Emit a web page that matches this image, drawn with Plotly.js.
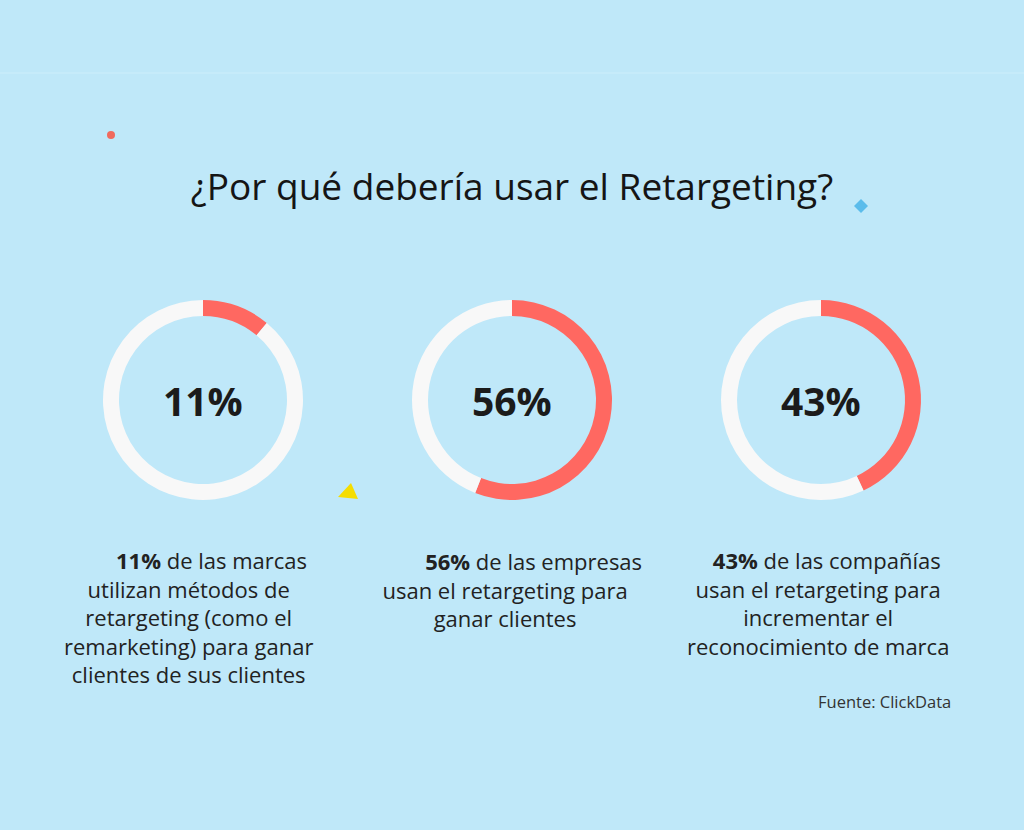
<!DOCTYPE html>
<html>
<head>
<meta charset="utf-8">
<script src="https://cdn.plot.ly/plotly-3.0.1.min.js"></script>
<style>
  html, body { margin: 0; padding: 0; background: #BFE8F9; }
  #chart { width: 1024px; height: 830px; }
</style>
</head>
<body>
<div id="chart"></div>
<script>
// Data
const percentages = [11, 56, 43];
const centerLabels = ['11%', '56%', '43%'];
const descriptions = [
    ['<b>11%</b> de las marcas', 'utilizan métodos de', 'retargeting (como el', 'remarketing) para ganar', 'clientes de sus clientes'],
    ['<b>56%</b> de las empresas', 'usan el retargeting para', 'ganar clientes'],
    ['<b>43%</b> de las compañías', 'usan el retargeting para', 'incrementar el', 'reconocimiento de marca']
];
const chartTitle = '¿Por qué debería usar el Retargeting?';
const sourceNote = 'Fuente: ClickData';

// Layout helpers (pixel -> paper fraction)
const W = 1024, H = 830;
const px = x => x / W;
const py = y => 1 - y / H;

const centersX = [203, 512, 821];
const centerY = 400;
const radius = 100;
// description blocks: centre x, centre y, indent of the first line (nbsp count)
const blockX = [188, 505, 818];
const blockY = [617, 589, 603];
const firstIndent = [8, 10, 3];
const FONT = '"Open Sans", Lato, sans-serif';

const traces = percentages.map((p, i) => ({
    type: 'pie',
    values: [p, 100 - p],
    labels: ['sí', 'resto'],
    sort: false,
    direction: 'clockwise',
    rotation: 0,
    hole: 0.84,
    textinfo: 'none',
    hoverinfo: 'none',
    showlegend: false,
    marker: { colors: ['#FF6861', '#F8F8F8'], line: { width: 0 } },
    domain: {
        x: [px(centersX[i] - radius), px(centersX[i] + radius)],
        y: [py(centerY + radius), py(centerY - radius)]
    }
}));

function note(text, x, y, size, color, anchor) {
    return {
        text: text, x: px(x), y: py(y),
        xref: 'paper', yref: 'paper', showarrow: false,
        xanchor: anchor || 'center', yanchor: 'middle', align: 'center', borderpad: 0,
        font: { family: FONT, size: size, color: color }
    };
}

const annotations = [];
centerLabels.forEach((t, i) => {
    annotations.push(note('<b>' + t + '</b>', centersX[i], centerY + 1, 39, '#1B1B1B'));
});
descriptions.forEach((lines, i) => {
    const first = '\u00a0'.repeat(firstIndent[i]) + lines[0];
    const text = [first].concat(lines.slice(1)).join('<br>');
    annotations.push(note(text, blockX[i], blockY[i], 22, '#222222'));
});
annotations.push(note(sourceNote, 952, 701, 16.5, '#333333', 'right'));

const layout = {
    width: W,
    height: H,
    margin: { l: 0, r: 0, t: 0, b: 0 },
    paper_bgcolor: '#BFE8F9',
    plot_bgcolor: '#BFE8F9',
    title: {
        text: chartTitle,
        x: 0.5, xanchor: 'center',
        y: py(187), yanchor: 'middle',
        font: { family: FONT, size: 37, color: '#151515' }
    },
    annotations: annotations,
    shapes: [
        // faint band line near top
        { type: 'line', xref: 'paper', yref: 'paper', x0: 0, x1: 1, y0: py(73), y1: py(73),
          line: { color: '#C6EBFA', width: 2 } },
        // red dot
        { type: 'circle', xref: 'paper', yref: 'paper',
          x0: px(107), x1: px(115), y0: py(139), y1: py(131),
          fillcolor: '#F06A5E', line: { width: 0 } },
        // blue diamond
        { type: 'path', xref: 'paper', yref: 'paper',
          path: `M ${px(861)} ${py(199)} L ${px(868)} ${py(206)} L ${px(861)} ${py(213)} L ${px(854)} ${py(206)} Z`,
          fillcolor: '#5BBCEB', line: { width: 0 } },
        // yellow triangle
        { type: 'path', xref: 'paper', yref: 'paper',
          path: `M ${px(351)} ${py(483)} L ${px(358)} ${py(499)} L ${px(338)} ${py(497)} Z`,
          fillcolor: '#F5DD00', line: { width: 0 } }
    ]
};

Plotly.newPlot('chart', traces, layout, { displayModeBar: false, staticPlot: true });
</script>
</body>
</html>
